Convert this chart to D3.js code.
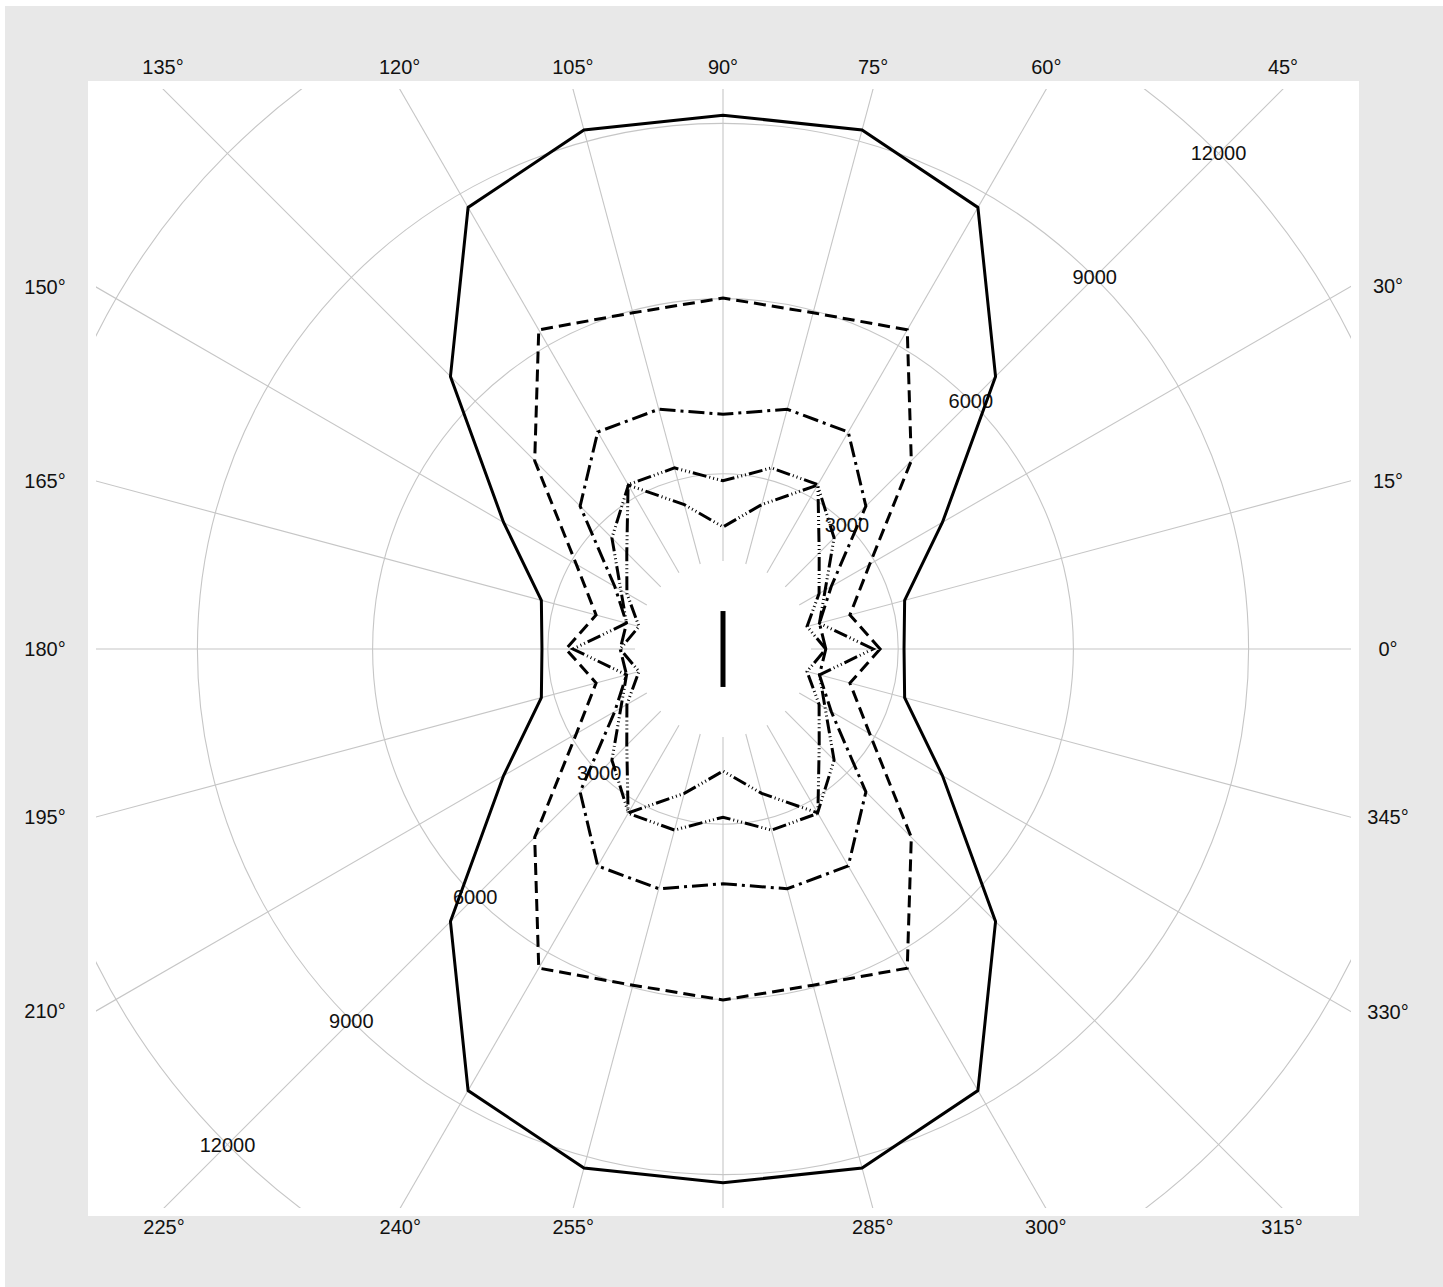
<!DOCTYPE html>
<html>
<head>
<meta charset="utf-8">
<script src="https://cdn.jsdelivr.net/npm/d3@7"></script>
<style>
  body { margin: 0; background: #fff; }
  text { font-family: "Liberation Sans", Arial, sans-serif; font-size: 20px; fill: #111; }
</style>
</head>
<body>
<div id="chart"></div>
<script>
// angles in degrees, counter-clockwise from 3 o'clock
const angles = [0, 15, 30, 45, 60, 75, 90, 105, 120, 135, 150, 165,
                180, 195, 210, 225, 240, 255, 270, 285, 300, 315, 330, 345];

const solid = [3100, 3220, 4340, 6600, 8730, 9200, 9140, 9200, 8730, 6600, 4340, 3220,
               3100, 3220, 4340, 6600, 8730, 9200, 9140, 9200, 8730, 6600, 4340, 3220];
const dashed = [2690, 2250, 2900, 4560, 6310, 5960, 6010, 5960, 6310, 4560, 2900, 2250,
                2690, 2250, 2900, 4560, 6310, 5960, 6010, 5960, 6310, 4560, 2900, 2250];
const dashDot = [1760, 1710, 2140, 3460, 4290, 4250, 4020, 4250, 4290, 3460, 2140, 1710,
                 1760, 1710, 2140, 3460, 4290, 4250, 4020, 4250, 4290, 3460, 2140, 1710];
const dashDots1 = [1760, 1490, 1900, 2330, 3250, 3210, 2880, 3210, 3250, 2330, 1900, 1490,
                   1760, 1490, 1900, 2330, 3250, 3210, 2880, 3210, 3250, 2330, 1900, 1490];
const dashDots2 = [2570, 1710, 2020, 2690, 3240, 2560, 2090, 2560, 3240, 2690, 2020, 1710,
                   2570, 1710, 2020, 2690, 3240, 2560, 2090, 2560, 3240, 2690, 2020, 1710];
const centerAngles = [90, 270];
const centerValues = [650, 650];

const radialTicks = [3000, 6000, 9000, 12000];
const labelAngles = [0, 15, 30, 45, 60, 75, 90, 105, 120, 135, 150, 165,
                     180, 195, 210, 225, 240, 255, 285, 300, 315, 330, 345];
const tickLabelAngles = [45, 225];

const W = 1443, H = 1287;
const cx = 723, cy = 649;
const panel = { x0: 88, y0: 81, x1: 1359, y1: 1216 };
const inner = { x0: 96, y0: 89, x1: 1351, y1: 1208 };
const hole = 88;

const r = d3.scaleLinear().domain([0, 3000]).range([0, 175.2]);
const rad = (a) => a * Math.PI / 180;

const svg = d3.select("#chart").append("svg")
  .attr("width", W)
  .attr("height", H);

svg.append("rect")
  .attr("x", 5).attr("y", 6)
  .attr("width", W - 5).attr("height", H - 6)
  .attr("fill", "#e8e8e8");

svg.append("rect")
  .attr("x", panel.x0).attr("y", panel.y0)
  .attr("width", panel.x1 - panel.x0).attr("height", panel.y1 - panel.y0)
  .attr("fill", "#fff");

svg.append("clipPath").attr("id", "clip")
  .append("rect")
  .attr("x", inner.x0).attr("y", inner.y0)
  .attr("width", inner.x1 - inner.x0).attr("height", inner.y1 - inner.y0);

const clipped = svg.append("g").attr("clip-path", "url(#clip)");
const g = clipped.append("g").attr("transform", `translate(${cx},${cy})`);

// grid circles
g.selectAll(".ring")
  .data(radialTicks)
  .enter()
  .append("circle")
  .attr("class", "ring")
  .attr("r", (d) => r(d))
  .attr("fill", "none")
  .attr("stroke", "#c6c6c6")
  .attr("stroke-width", 1.1);

// spokes
g.selectAll(".spoke")
  .data(angles)
  .enter()
  .append("line")
  .attr("class", "spoke")
  .attr("x1", (d) => hole * Math.cos(rad(d)))
  .attr("y1", (d) => -hole * Math.sin(rad(d)))
  .attr("x2", (d) => 1100 * Math.cos(rad(d)))
  .attr("y2", (d) => -1100 * Math.sin(rad(d)))
  .attr("stroke", "#c6c6c6")
  .attr("stroke-width", 1.1);

// radial tick labels
const tickPos = [];
tickLabelAngles.forEach((a) => {
  radialTicks.forEach((v) => tickPos.push({ a: a, v: v }));
});
g.selectAll(".rlabel")
  .data(tickPos)
  .enter()
  .append("text")
  .attr("class", "rlabel")
  .attr("text-anchor", "middle")
  .attr("dy", "0.35em")
  .attr("x", (d) => r(d.v) * Math.cos(rad(d.a)))
  .attr("y", (d) => -r(d.v) * Math.sin(rad(d.a)))
  .text((d) => d.v);

// series
const line = d3.lineRadial()
  .angle((d) => rad(90 - d.a))
  .radius((d) => r(d.v))
  .curve(d3.curveLinearClosed);

const series = [
  { values: solid, dash: null },
  { values: dashed, dash: "12,6" },
  { values: dashDot, dash: "16,5,3,5" },
  { values: dashDots1, dash: "14,3,1,3,1,3,1,3" },
  { values: dashDots2, dash: "14,3,1,3,1,3,1,3" }
];

series.forEach((s) => {
  g.append("path")
    .datum(angles.map((a, i) => ({ a: a, v: s.values[i] })))
    .attr("fill", "none")
    .attr("stroke", "#000")
    .attr("stroke-width", 3)
    .attr("stroke-linejoin", "miter")
    .attr("stroke-dasharray", s.dash)
    .attr("d", line);
});

g.append("path")
  .datum(centerAngles.map((a, i) => ({ a: a, v: centerValues[i] })))
  .attr("fill", "none")
  .attr("stroke", "#000")
  .attr("stroke-width", 5)
  .attr("d", d3.lineRadial()
    .angle((d) => rad(90 - d.a))
    .radius((d) => r(d.v)));

// angle labels outside the panel
function labelPos(a) {
  const dx = Math.cos(rad(a)), dy = -Math.sin(rad(a));
  const tx = Math.abs(dx) < 1e-9 ? Infinity : (dx > 0 ? inner.x1 - cx : inner.x0 - cx) / dx;
  const ty = Math.abs(dy) < 1e-9 ? Infinity : (dy > 0 ? inner.y1 - cy : inner.y0 - cy) / dy;
  if (ty <= tx) {
    return { x: cx + dx * ty, y: dy < 0 ? 67 : 1227 };
  }
  return { x: dx > 0 ? 1388 : 45, y: cy + dy * tx };
}

svg.selectAll(".alabel")
  .data(labelAngles)
  .enter()
  .append("text")
  .attr("class", "alabel")
  .attr("text-anchor", "middle")
  .attr("dy", "0.35em")
  .attr("x", (d) => labelPos(d).x)
  .attr("y", (d) => labelPos(d).y)
  .text((d) => d + "°");
</script>
</body>
</html>
